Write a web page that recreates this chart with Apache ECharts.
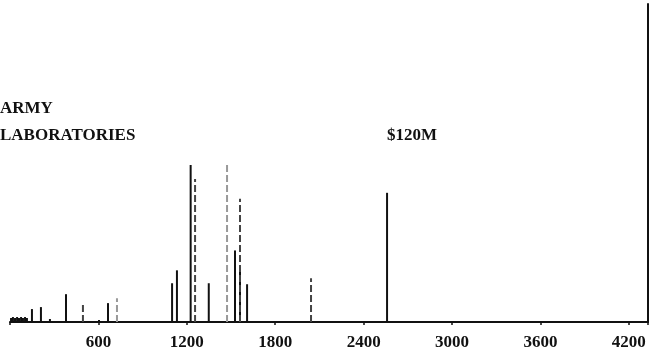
<!DOCTYPE html>
<html>
<head>
<meta charset="utf-8">
<script src="https://cdn.jsdelivr.net/npm/echarts@6/dist/echarts.min.js"></script>
<style>
  html, body { margin: 0; padding: 0; background: #fff; }
  #chart { width: 663px; height: 359px; }
</style>
</head>
<body>
<div id="chart"></div>
<script>
// spike positions (x value), heights in arbitrary units
const spikeX = [7, 20, 34, 48, 61, 75, 88, 102, 115,
    149, 210, 271, 380, 495, 604, 665, 726,
    1100, 1133, 1226, 1256, 1349, 1473, 1527, 1561, 1561, 1609,
    2043, 2559]
const spikeH = [2, 2.5, 2, 2.5, 2, 2.5, 2, 2.5, 2,
    6.5, 7.5, 1.5, 14, 8.5, 1, 9.5, 12,
    19.5, 26, 79, 72, 19.5, 79, 36, 28.5, 62, 19,
    22, 65]
// 0 = solid, 1 = broken line, 2 = faint broken line
const spikeStyle = [0, 0, 0, 0, 0, 0, 0, 0, 0,
    0, 0, 0, 0, 1, 0, 0, 2,
    0, 0, 0, 1, 0, 2, 0, 0, 1, 0,
    1, 0]
const xTicks = [600, 1200, 1800, 2400, 3000, 3600, 4200]
const xMax = 4330
const yMax = 160

const spikeData = spikeX.map((x, i) => [x, spikeH[i], spikeStyle[i]])

const chart = echarts.init(document.getElementById('chart'))

chart.setOption({
    animation: false,
    backgroundColor: '#fff',
    grid: {
        left: 10,
        right: 15,
        top: 4,
        bottom: 37
    },
    xAxis: {
        type: 'value',
        min: 0,
        max: xMax,
        interval: 600,
        axisLine: { show: true, lineStyle: { color: '#111', width: 2 } },
        axisTick: { show: true, length: 3, lineStyle: { color: '#111', width: 1.5 } },
        splitLine: { show: false },
        axisLabel: {
            margin: 12,
            color: '#111',
            fontFamily: 'Liberation Serif',
            fontWeight: 'bold',
            fontSize: 17,
            formatter: v => (xTicks.includes(v) ? String(v) : '')
        }
    },
    yAxis: {
        type: 'value',
        position: 'right',
        min: 0,
        max: yMax,
        axisLine: { show: true, onZero: false, lineStyle: { color: '#111', width: 2 } },
        axisTick: { show: false },
        axisLabel: { show: false },
        splitLine: { show: false }
    },
    graphic: [
        { type: 'text', left: 0, top: 100,
          style: { text: 'ARMY', fill: '#111', font: 'bold 17px "Liberation Serif"' } },
        { type: 'text', left: 0, top: 127,
          style: { text: 'LABORATORIES', fill: '#111', font: 'bold 17px "Liberation Serif"' } },
        { type: 'text', left: 387, top: 127,
          style: { text: '$120M', fill: '#111', font: 'bold 17px "Liberation Serif"' } }
    ],
    series: [
        {
            type: 'custom',
            silent: true,
            data: spikeData,
            renderItem(params, api) {
                const x = api.value(0)
                const h = api.value(1)
                const s = api.value(2)
                const p0 = api.coord([x, 0])
                const p1 = api.coord([x, h])
                return {
                    type: 'line',
                    shape: { x1: p0[0], y1: p0[1], x2: p1[0], y2: p1[1] },
                    style: {
                        stroke: s === 2 ? '#999' : (s === 1 ? '#444' : '#111'),
                        lineWidth: 2,
                        lineDash: s === 0 ? null : [7, 3]
                    }
                }
            }
        }
    ]
})
</script>
</body>
</html>
